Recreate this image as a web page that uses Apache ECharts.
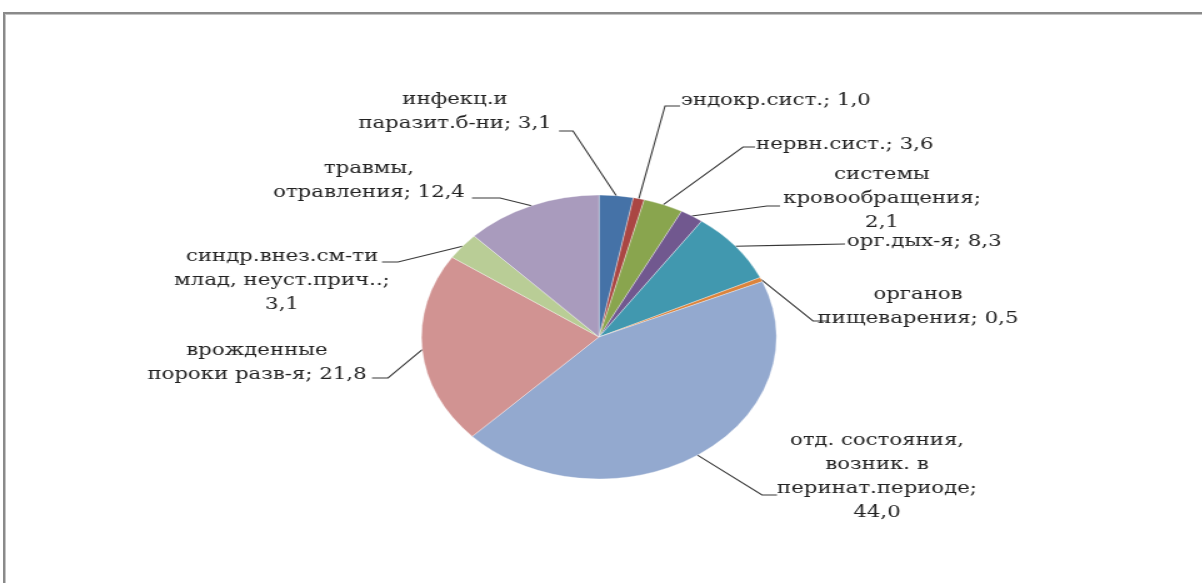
<!DOCTYPE html>
<html>
<head>
<meta charset="utf-8">
<script src="https://cdn.jsdelivr.net/npm/echarts@6/dist/echarts.min.js"></script>
<style>
  html, body { margin: 0; padding: 0; background: #fff; overflow: hidden; }
  #frame {
    position: absolute; left: 3px; top: 12px; width: 1400px; height: 800px;
    border-top: 2px solid #8a8a8a; border-left: 2px solid #8a8a8a;
    box-shadow: inset 1px 1px 0 #c4c4c4;
  }
  /* the chart is drawn narrower and stretched horizontally, giving the oval pie */
  #chart {
    position: absolute; left: 0; top: 0; width: 962px; height: 583px;
    transform: scaleX(1.25); transform-origin: 0 0;
  }
</style>
</head>
<body>
<div id="frame"></div>
<div id="chart"></div>
<script>
// Causes, shares in percent
const categories = [
  'инфекц.и\nпаразит.б-ни',
  'эндокр.сист.',
  'нервн.сист.',
  'системы\nкровообращения',
  'орг.дых-я',
  'органов\nпищеварения',
  'отд. состояния,\nвозник. в\nперинат.периоде',
  'врожденные\nпороки разв-я',
  'синдр.внез.см-ти\nмлад, неуст.прич..',
  'травмы,\nотравления'
];
const values = [3.1, 1.0, 3.6, 2.1, 8.3, 0.5, 44.0, 21.8, 3.1, 12.4];
// separator between name and value in each label
const separators = ['; ', '; ', '; ', ';\n', '; ', '; ', ';\n', '; ', ';\n', '; '];

const colors = ['#4572A7', '#AA4643', '#89A54E', '#71588F', '#4198AF',
                '#DB843D', '#93A9CF', '#D19392', '#B9CD96', '#A99BBD'];

const STRETCH = 1.25;
// label placement in page pixels: text anchor, leader bend point, leader end
const labelPlacement = [
  { x: 455, y: 112, align: 'center', bend: [573, 131], end: [559, 131] },
  { x: 681, y: 101, align: 'left',   bend: [665, 106], end: [680, 106] },
  { x: 756, y: 145, align: 'left',   bend: [743, 147], end: [755, 147] },
  { x: 882, y: 199, align: 'center', bend: [767, 206], end: [780, 206] },
  { x: 847, y: 242, align: 'left',   bend: null,       end: [845, 244] },
  { x: 918, y: 307, align: 'center', bend: [813, 321], end: [828, 321] },
  { x: 877, y: 477, align: 'center', bend: [762, 495], end: [777, 495] },
  { x: 257, y: 363, align: 'center', bend: [388, 378], end: [372, 378] },
  { x: 282, y: 281, align: 'center', bend: [398, 262], end: [382, 262] },
  { x: 369, y: 181, align: 'center', bend: [500, 198], end: [472, 198] }
];

const toChart = p => [p[0] / STRETCH, p[1]];

const data = categories.map((name, i) => ({
  name: name,
  value: values[i],
  itemStyle: { color: colors[i] }
}));

const chart = echarts.init(document.getElementById('chart'), null, { renderer: 'canvas' });

chart.setOption({
  animation: false,
  backgroundColor: 'transparent',
  series: [{
    type: 'pie',
    center: [599 / STRETCH, 337],
    radius: 142,
    startAngle: 90,
    clockwise: true,
    avoidLabelOverlap: false,
    data: data,
    itemStyle: { borderColor: 'rgba(255,255,255,0.55)', borderWidth: 0.6 },
    label: {
      show: true,
      position: 'outside',
      fontFamily: 'DejaVu Serif',
      fontSize: 17,
      lineHeight: 24,
      color: '#222',
      formatter: p => p.name + separators[p.dataIndex] + p.value.toFixed(1).replace('.', ',')
    },
    labelLine: {
      show: true,
      smooth: false,
      lineStyle: { color: '#383838', width: 1.1 }
    },
    labelLayout: function (params) {
      const lp = labelPlacement[params.dataIndex];
      const start = params.labelLinePoints ? params.labelLinePoints[0] : null;
      const end = toChart(lp.end);
      let pts = null;
      if (start) {
        const bend = lp.bend ? toChart(lp.bend)
          : [(start[0] + end[0]) / 2, (start[1] + end[1]) / 2];
        pts = [start, bend, end];
      }
      const out = {
        x: lp.x / STRETCH,
        y: lp.y,
        align: lp.align,
        verticalAlign: 'middle'
      };
      if (pts) out.labelLinePoints = pts;
      return out;
    }
  }]
});
</script>
</body>
</html>
